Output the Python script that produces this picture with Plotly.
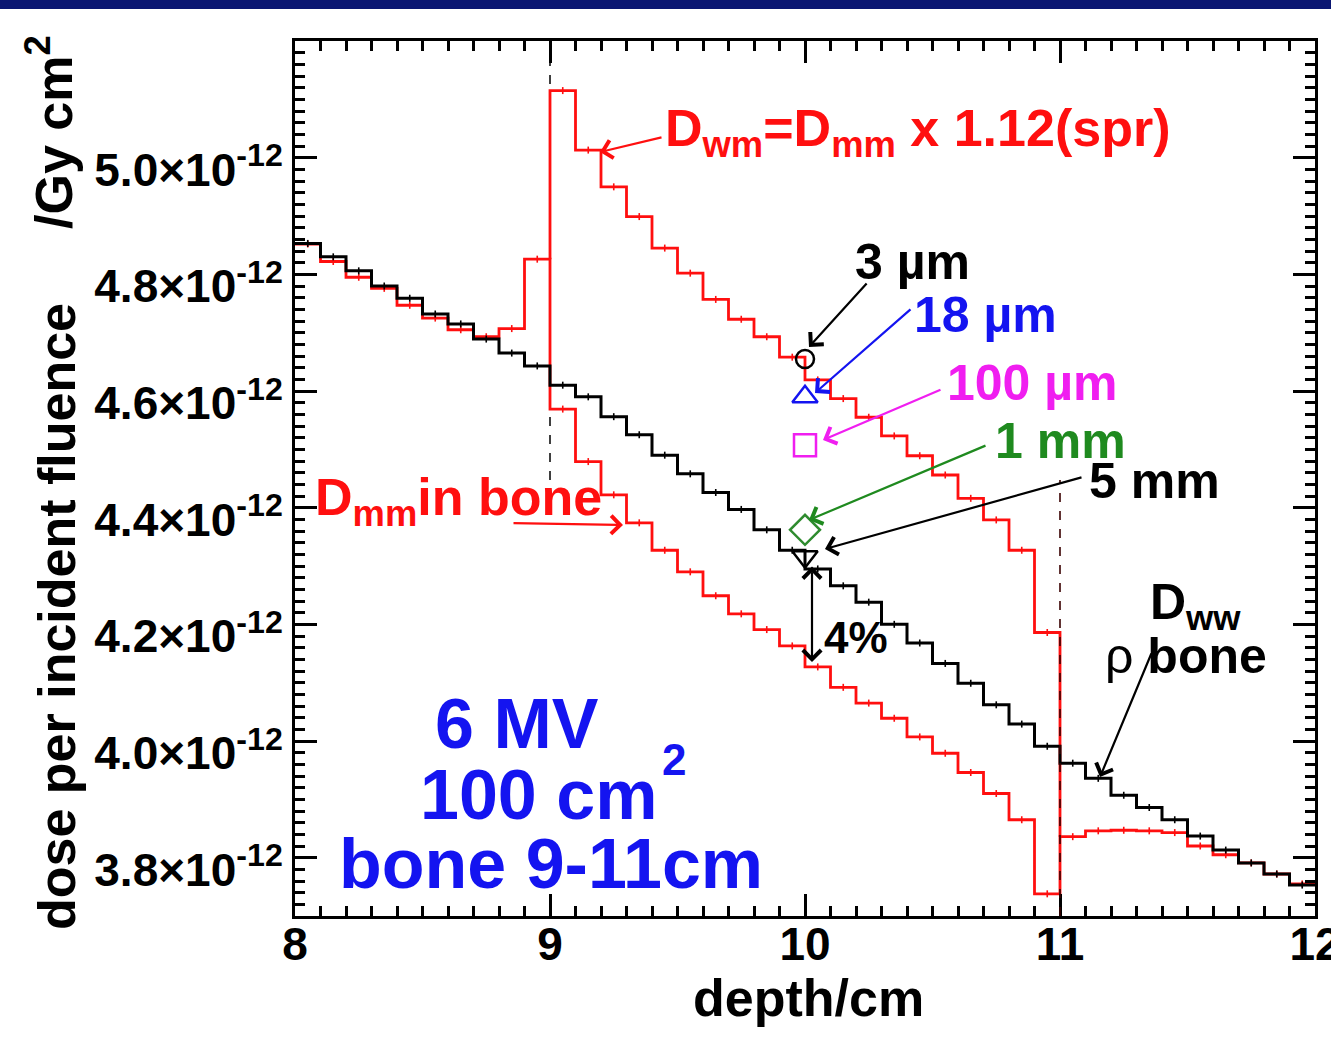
import numpy as np
import plotly.graph_objects as go

# ---------------- data (dose in units of 1e-12 Gy cm^2) ----------------
SCALE = 1e-12
depth_start = 8.0
bin_width = 0.1
bone_start, bone_end = 9.0, 11.0

# black: D_ww (water / rho bone), 8-12 cm, 0.1 cm bins
dose_ww = [4.853, 4.830, 4.806, 4.780, 4.759, 4.732, 4.715, 4.689, 4.665, 4.643,
           4.610, 4.590, 4.556, 4.525, 4.490, 4.458, 4.426, 4.397, 4.362, 4.327,
           4.295, 4.266, 4.238, 4.200, 4.168, 4.133, 4.099, 4.062, 4.029, 3.991,
           3.962, 3.936, 3.907, 3.886, 3.865, 3.837, 3.813, 3.791, 3.772, 3.753]
# red: D_mm (dose to medium, bone 9-11 cm)
dose_mm = [4.852, 4.822, 4.795, 4.776, 4.747, 4.725, 4.705, 4.693, 4.707, 4.826,
           4.569, 4.479, 4.422, 4.374, 4.327, 4.290, 4.249, 4.218, 4.191, 4.163,
           4.127, 4.092, 4.065, 4.039, 4.007, 3.979, 3.946, 3.910, 3.865, 3.738,
           3.836, 3.846, 3.847, 3.846, 3.843, 3.820, 3.805, 3.791, 3.772, 3.755]
# red: D_wm = D_mm x 1.12 (spr), within bone 9-11 cm
dose_wm = [5.115, 5.013, 4.950, 4.899, 4.845, 4.802, 4.757, 4.723, 4.693, 4.658,
           4.619, 4.587, 4.555, 4.523, 4.489, 4.456, 4.416, 4.379, 4.327, 4.186]

# cavity sizes at 10 cm depth
probe_labels = ["3 µm", "18 µm", "100 µm", "1 mm", "5 mm"]
probe_depth = [10.0, 10.0, 10.0, 10.0, 10.0]
probe_dose = [4.655, 4.590, 4.507, 4.362, 4.316]

y_tick_values = [3.8, 4.0, 4.2, 4.4, 4.6, 4.8, 5.0]
y_tick_labels = ["3.8×10<sup>-12</sup>", "4.0×10<sup>-12</sup>", "4.2×10<sup>-12</sup>",
                 "4.4×10<sup>-12</sup>", "4.6×10<sup>-12</sup>", "4.8×10<sup>-12</sup>",
                 "5.0×10<sup>-12</sup>"]
x_tick_values = [8, 9, 10, 11, 12]

# ---------------- layout geometry ----------------
W, H = 1331, 1038
L, R, T, B = 295, 16, 41, 122
XR = [8.0, 12.0]
YR = [3.7, 5.2]
FONT = "Liberation Sans, Arial, Helvetica, sans-serif"
RED = "#ff0f0f"
BLUE = "#1414f0"
MAGENTA = "#f01ef0"
GREEN = "#1f8a1f"

pw, ph = W - L - R, H - T - B


def X(px):
    return XR[0] + (px - L) / pw * (XR[1] - XR[0])


def Y(py):
    return (YR[1] - (py - T) / ph * (YR[1] - YR[0])) * SCALE


def step_xy(x0, vals):
    v = np.asarray(vals, dtype=float)
    edges = x0 + bin_width * np.arange(len(v) + 1)
    return edges, np.append(v, v[-1]) * SCALE, edges[:-1] + bin_width / 2, v * SCALE


fig = go.Figure()

# D_mm (red), full depth
ex, ey, cx, cy = step_xy(depth_start, dose_mm)
fig.add_trace(go.Scatter(x=ex, y=ey, mode="lines", line=dict(color=RED, width=2.8, shape="hv"),
                         hoverinfo="skip"))
fig.add_trace(go.Scatter(x=cx, y=cy, mode="markers", marker=dict(size=1, color=RED),
                         error_y=dict(type="constant", value=0.006 * SCALE, width=0,
                                      thickness=1.6, color=RED)))

# D_wm (red) inside bone, joined to D_mm at the interfaces
i0 = int(round((bone_start - depth_start) / bin_width))
i1 = int(round((bone_end - depth_start) / bin_width))
ex2, ey2, cx2, cy2 = step_xy(bone_start, dose_wm)
ex2 = np.concatenate([[bone_start], ex2, [bone_end]])
ey2 = np.concatenate([[dose_mm[i0 - 1] * SCALE], ey2, [dose_mm[i1] * SCALE]])
fig.add_trace(go.Scatter(x=ex2, y=ey2, mode="lines", line=dict(color=RED, width=2.8, shape="hv"),
                         hoverinfo="skip"))
fig.add_trace(go.Scatter(x=cx2, y=cy2, mode="markers", marker=dict(size=1, color=RED),
                         error_y=dict(type="constant", value=0.006 * SCALE, width=0,
                                      thickness=1.6, color=RED)))

# dashed bone interface lines
fig.add_shape(type="line", x0=bone_start, x1=bone_start, y0=Y(480), y1=YR[1] * SCALE,
              line=dict(color="black", width=1.5, dash="dash"), layer="below")
fig.add_shape(type="line", x0=bone_end, x1=bone_end, y0=YR[0] * SCALE, y1=Y(480),
              line=dict(color="#3a0000", width=1.6, dash="dash"), layer="above")

# D_ww (black)
ex3, ey3, cx3, cy3 = step_xy(depth_start, dose_ww)
fig.add_trace(go.Scatter(x=ex3, y=ey3, mode="lines", line=dict(color="black", width=3, shape="hv"),
                         hoverinfo="skip"))
fig.add_trace(go.Scatter(x=cx3, y=cy3, mode="markers", marker=dict(size=1, color="black"),
                         error_y=dict(type="constant", value=0.006 * SCALE, width=0,
                                      thickness=1.6, color="black")))

# cavity markers
probe_symbols = ["circle-open", "triangle-up-open", "square-open", "diamond-open", "triangle-down-open"]
probe_colors = ["black", BLUE, MAGENTA, "#2e8b2e", "black"]
probe_sizes = [18, 22, 22, 23, 22]
for lab, xd, yd, sym, col, sz in zip(probe_labels, probe_depth, probe_dose, probe_symbols,
                                     probe_colors, probe_sizes):
    fig.add_trace(go.Scatter(x=[xd], y=[yd * SCALE], mode="markers", name=lab,
                             marker=dict(symbol=sym, size=sz, color=col,
                                         line=dict(color=col, width=2.5))))

# header bar
fig.add_shape(type="rect", xref="paper", yref="paper", x0=-L / pw, x1=1 + R / pw,
              y0=1 + (T - 9) / ph, y1=1 + T / ph, fillcolor="#0a1672", line=dict(width=0),
              layer="above")


def font(size, color="black", weight="bold"):
    return dict(family=FONT, size=size, color=color, weight=weight)


def text(px, py, s, size, color="black", xanchor="left", weight="bold", angle=0):
    fig.add_annotation(x=X(px), y=Y(py), xref="x", yref="y", text=s, showarrow=False,
                       xanchor=xanchor, yanchor="middle", font=font(size, color, weight),
                       textangle=angle)


def arrow(tx, ty, hx, hy, color="black", width=2.2, side="end"):
    fig.add_annotation(x=X(hx), y=Y(hy), ax=X(tx), ay=Y(ty), xref="x", yref="y",
                       axref="x", ayref="y", text="", showarrow=True, arrowhead=4,
                       arrowsize=1.6, arrowwidth=width, arrowcolor=color, arrowside=side,
                       startarrowhead=4, startarrowsize=1.6)


# labels and arrows
text(663, 132, "D<sub>wm</sub>=D<sub>mm</sub> x 1.12(spr)", 52, RED)
arrow(663, 137, 600, 152, RED)

text(853, 262, "3 µm", 50)
arrow(868, 282, 809, 347)
text(912, 315, "18 µm", 50, BLUE)
arrow(912, 308, 815, 393, BLUE)
text(945, 383, "100 µm", 50, MAGENTA)
arrow(942, 389, 823, 440, MAGENTA)
text(993, 441, "1 mm", 50, GREEN)
arrow(987, 445, 809, 520, GREEN)
text(1087, 481, "5 mm", 50)
arrow(1083, 477, 825, 549)

text(822, 637, "4%", 44)
arrow(812, 565, 812, 662, side="end+start")

text(313, 501, "D<sub>mm</sub>in bone", 52, RED)
arrow(512, 523, 623, 525, RED)

text(1148, 605, "D<sub>ww</sub>", 50)
text(1103, 656, "ρ <b>bone</b>", 50, weight="normal")
arrow(1152, 652, 1100, 777)

text(517, 724, "6 MV", 70, BLUE, xanchor="center")
text(418, 795, "100 cm", 70, BLUE)
text(660, 759, "2", 44, BLUE)
text(337, 864, "bone 9-11cm", 70, BLUE)

# axis titles
fig.add_annotation(xref="paper", yref="paper", x=(808 - L) / pw, y=(T + ph - 998) / ph,
                   text="depth/cm", showarrow=False, xanchor="center", yanchor="middle",
                   font=font(52))
fig.add_annotation(xref="paper", yref="paper", x=(57 - L) / pw, y=(T + ph - 617) / ph,
                   text="dose per incident fluence", showarrow=False, xanchor="center",
                   yanchor="middle", textangle=-90, font=font(52))
fig.add_annotation(xref="paper", yref="paper", x=(50 - L) / pw, y=(T + ph - 132) / ph,
                   text="/Gy cm<sup>2</sup>", showarrow=False, xanchor="center",
                   yanchor="middle", textangle=-90, font=font(52))

axis_common = dict(ticks="inside", mirror="allticks", showline=True, linecolor="black",
                   linewidth=3, tickcolor="black", tickwidth=2.5, ticklen=22,
                   showgrid=False, zeroline=False, tickfont=font(46),
                   ticklabeloverflow="allow", automargin=False)

fig.update_xaxes(range=XR, tickvals=x_tick_values, ticktext=[str(v) for v in x_tick_values],
                 ticklabelstandoff=-14,
                 minor=dict(dtick=bin_width, tick0=depth_start, ticks="inside", ticklen=10,
                            tickwidth=2.5, tickcolor="black", showgrid=False),
                 **axis_common)
fig.update_yaxes(range=[YR[0] * SCALE, YR[1] * SCALE],
                 tickvals=[v * SCALE for v in y_tick_values], ticktext=y_tick_labels,
                 ticklabelshift=12,
                 minor=dict(dtick=0.02 * SCALE, tick0=0, ticks="inside", ticklen=10,
                            tickwidth=2.5, tickcolor="black", showgrid=False),
                 **axis_common)

fig.update_layout(width=W, height=H, margin=dict(l=L, r=R, t=T, b=B, autoexpand=False),
                  paper_bgcolor="white", plot_bgcolor="white", showlegend=False,
                  font=dict(family=FONT))

fig.write_html("out.html", config={"displayModeBar": False},
               post_script="document.body.style.margin='0';document.body.style.overflow='hidden';")
